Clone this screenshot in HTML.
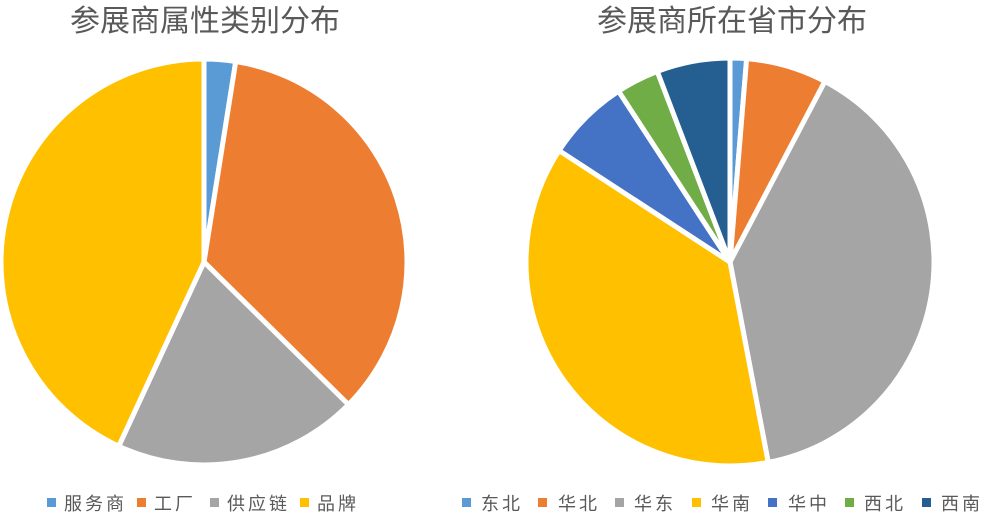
<!DOCTYPE html>
<html><head><meta charset="utf-8"><style>
body{margin:0;background:#fff;width:1000px;height:516px;overflow:hidden;font-family:"Liberation Sans","Noto Sans CJK SC",sans-serif}
</style></head><body>
<svg id="s" width="1000" height="516" xmlns="http://www.w3.org/2000/svg">
<text x="205" y="31" font-size="30" fill="#595959" text-anchor="middle" font-family="Noto Sans CJK SC, sans-serif">参展商属性类别分布</text>
<text x="732" y="31" font-size="30" fill="#595959" text-anchor="middle" font-family="Noto Sans CJK SC, sans-serif">参展商所在省市分布</text>
<g font-size="18" fill="#595959" font-family="Noto Sans CJK SC, sans-serif" letter-spacing="3">
<rect x="47" y="498" width="9" height="9" fill="#5b9bd5"/><text x="64" y="510">服务商</text>
<rect x="137" y="498" width="9" height="9" fill="#ed7d31"/><text x="154" y="510">工厂</text>
<rect x="210" y="498" width="9" height="9" fill="#a5a5a5"/><text x="227" y="510">供应链</text>
<rect x="300" y="498" width="9" height="9" fill="#ffc000"/><text x="317" y="510">品牌</text>
<rect x="462" y="498" width="9" height="9" fill="#5b9bd5"/><text x="481" y="510">东北</text>
<rect x="538" y="498" width="9" height="9" fill="#ed7d31"/><text x="558" y="510">华北</text>
<rect x="615" y="498" width="9" height="9" fill="#a5a5a5"/><text x="634" y="510">华东</text>
<rect x="692" y="498" width="9" height="9" fill="#ffc000"/><text x="711" y="510">华南</text>
<rect x="768" y="498" width="9" height="9" fill="#4472c4"/><text x="788" y="510">华中</text>
<rect x="845" y="498" width="9" height="9" fill="#70ad47"/><text x="864" y="510">西北</text>
<rect x="922" y="498" width="9" height="9" fill="#255e91"/><text x="941" y="510">西南</text>
</g>
<g id="p"></g>
</svg>
<script>
function pie(cx,cy,r,vals,cols){
 var g=document.getElementById('p'),a=0,h='';
 for(var i=0;i<vals.length;i++){
  var a0=a*2*Math.PI,a1=(a+vals[i])*2*Math.PI;a+=vals[i];
  var x0=cx+r*Math.sin(a0),y0=cy-r*Math.cos(a0),x1=cx+r*Math.sin(a1),y1=cy-r*Math.cos(a1);
  var l=vals[i]>0.5?1:0;
  h+='<path d="M'+cx+','+cy+' L'+x0+','+y0+' A'+r+','+r+' 0 '+l+' 1 '+x1+','+y1+' Z" fill="'+cols[i]+'" stroke="#fff" stroke-width="5" stroke-linejoin="round"/>';
 }
 g.innerHTML+=h;
}
pie(204,262,203,[0.025,0.349,0.195,0.431],['#5b9bd5','#ed7d31','#a5a5a5','#ffc000']);
pie(730,262,204,[0.013,0.064,0.393,0.372,0.066,0.034,0.058],['#5b9bd5','#ed7d31','#a5a5a5','#ffc000','#4472c4','#70ad47','#255e91']);
</script>
</body></html>
